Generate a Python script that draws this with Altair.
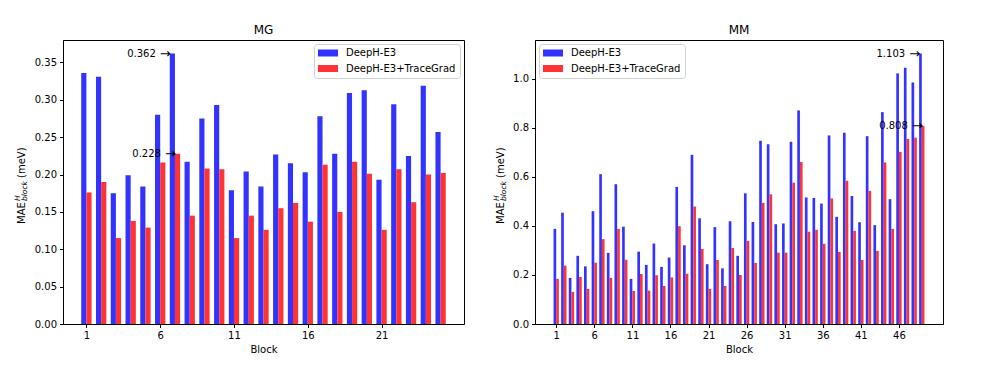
import altair as alt
import pandas as pd

SERIES = ["DeepH-E3", "DeepH-E3+TraceGrad"]
COLORS = ["#3333ff", "#ff3333"]

mg_blocks = list(range(1, 26))
mg_e3 = [0.336, 0.331, 0.175, 0.199, 0.184, 0.280, 0.362, 0.217, 0.275, 0.293,
         0.179, 0.204, 0.184, 0.227, 0.215, 0.203, 0.278, 0.228, 0.309, 0.313,
         0.193, 0.294, 0.225, 0.319, 0.257]
mg_tg = [0.176, 0.190, 0.115, 0.138, 0.129, 0.216, 0.228, 0.145, 0.208, 0.207,
         0.115, 0.145, 0.126, 0.155, 0.162, 0.137, 0.213, 0.150, 0.217, 0.201,
         0.126, 0.207, 0.163, 0.200, 0.202]

mm_blocks = list(range(1, 50))
mm_e3 = [0.388, 0.454, 0.188, 0.278, 0.235, 0.460, 0.611, 0.290, 0.570, 0.397,
         0.184, 0.295, 0.241, 0.328, 0.233, 0.271, 0.559, 0.321, 0.690, 0.431,
         0.244, 0.395, 0.227, 0.419, 0.278, 0.533, 0.416, 0.747, 0.733, 0.407,
         0.410, 0.743, 0.871, 0.516, 0.514, 0.491, 0.769, 0.437, 0.780, 0.522,
         0.415, 0.766, 0.403, 0.864, 0.509, 1.022, 1.045, 0.985, 1.103]
mm_tg = [0.184, 0.238, 0.131, 0.192, 0.143, 0.250, 0.346, 0.188, 0.388, 0.262,
         0.135, 0.204, 0.136, 0.199, 0.155, 0.190, 0.399, 0.205, 0.479, 0.306,
         0.143, 0.261, 0.155, 0.310, 0.200, 0.339, 0.249, 0.494, 0.529, 0.291,
         0.291, 0.576, 0.661, 0.376, 0.384, 0.327, 0.512, 0.294, 0.584, 0.380,
         0.261, 0.543, 0.298, 0.659, 0.388, 0.702, 0.755, 0.760, 0.808]

mg_ticks = [1, 6, 11, 16, 21]
mm_ticks = [1, 6, 11, 16, 21, 26, 31, 36, 41, 46]
mg_yticks = [0.0, 0.05, 0.10, 0.15, 0.20, 0.25, 0.30, 0.35]
mm_yticks = [0.0, 0.2, 0.4, 0.6, 0.8, 1.0]

FONT = "DejaVu Sans"
BW = 0.35
XPOS = f"datum.series == '{SERIES[0]}' ? datum.block - {BW} : datum.block"


def panel(title, blocks, e3, tg, xticks, yticks, yfmt, width, orient, lab_shift):
    df = pd.DataFrame({
        "block": blocks * 2,
        "series": [SERIES[0]] * len(blocks) + [SERIES[1]] * len(blocks),
        "value": e3 + tg,
    })
    lo = min(blocks) - BW
    hi = max(blocks) + BW
    m = (hi - lo) * 0.05
    xdom = [lo - m, hi + m]
    ymax = max(e3 + tg) * 1.05

    ann_rows = []
    for name, vals in zip(SERIES, [e3, tg]):
        i = vals.index(max(vals))
        ann_rows.append({"block": blocks[i], "series": name, "value": vals[i],
                         "label": f"{vals[i]:.3f}"})
    ann_df = pd.DataFrame(ann_rows)

    xsc = alt.Scale(domain=xdom, nice=False, zero=False)
    ysc = alt.Scale(domain=[0, ymax], nice=False)

    legend = alt.Legend(
        title=None, orient=orient, offset=4, fillColor="white",
        strokeColor="#d0d0d0", padding=4,
        labelFont=FONT, labelFontSize=10, labelColor="black",
        symbolType="M-1,-0.7H3V0.7H-1Z", symbolSize=100, symbolStrokeWidth=0,
        symbolOpacity=1, rowPadding=5.5, labelOffset=18, labelLimit=300,
    )

    bars = alt.Chart(df).mark_bar(opacity=1).transform_calculate(
        x0=XPOS, x1=f"({XPOS}) + {BW}"
    ).encode(
        x=alt.X("x0:Q", scale=xsc,
                axis=alt.Axis(values=xticks, format="d", title="Block")),
        x2="x1:Q",
        y=alt.Y("value:Q", scale=ysc,
                axis=alt.Axis(values=yticks, format=yfmt, title=None)),
        y2=alt.datum(0),
        color=alt.Color("series:N", scale=alt.Scale(domain=SERIES, range=COLORS),
                        legend=legend, sort=SERIES),
    )

    ann_base = alt.Chart(ann_df).transform_calculate(xa=XPOS)
    ann_num = ann_base.mark_text(
        align="right", baseline="middle", font=FONT, fontSize=10, color="black",
        dx=-14
    ).encode(x=alt.X("xa:Q", scale=xsc), y=alt.Y("value:Q", scale=ysc),
             text="label:N")
    ann_arrow = ann_base.mark_text(
        align="right", baseline="middle", font=FONT, fontSize=13, color="black",
        dx=1, text="\u2192"
    ).encode(x=alt.X("xa:Q", scale=xsc), y=alt.Y("value:Q", scale=ysc))

    one = pd.DataFrame({"k": [0]})

    def lab(txt, size, xr, yr, italic=False):
        return alt.Chart(one).mark_text(
            angle=270, align="left", baseline="middle", font=FONT, fontSize=size,
            fontStyle="italic" if italic else "normal", color="black"
        ).encode(x=alt.value(xr + lab_shift), y=alt.value(yr), text=alt.value(txt))

    ylabel = [
        lab("MAE", 10, -40.8, 184),
        lab("H", 7.5, -44.6, 161, True),
        lab("block", 7.5, -37.6, 161, True),
        lab("(meV)", 10, -40.8, 138),
    ]

    return alt.layer(bars, ann_num, ann_arrow, *ylabel).properties(
        width=width, height=284,
        title=alt.TitleParams(title, fontSize=12, font=FONT, fontWeight="normal",
                              color="black", offset=3),
    )


left = panel("MG", mg_blocks, mg_e3, mg_tg, mg_ticks, mg_yticks, ".2f", 401,
             "top-right", 0)
right = panel("MM", mm_blocks, mm_e3, mm_tg, mm_ticks, mm_yticks, ".1f", 408,
              "top-left", 6.4)

chart = alt.hconcat(left, right, spacing=27).resolve_scale(
    color="independent", x="independent", y="independent"
).resolve_legend(color="independent").properties(
    padding={"left": 5, "top": 15, "right": 5, "bottom": 5}
).configure_axis(
    domainColor="black", tickColor="black", labelColor="black", titleColor="black",
    labelFont=FONT, titleFont=FONT, labelFontSize=10, titleFontSize=10,
    titleFontWeight="normal", grid=False, tickSize=3.5, labelPadding=3,
    titlePadding=4,
).configure_legend(strokeWidth=1, cornerRadius=3).configure_view(
    stroke="black", strokeWidth=1)

chart.save("out.html", embed_options={"renderer": "svg", "actions": False})
